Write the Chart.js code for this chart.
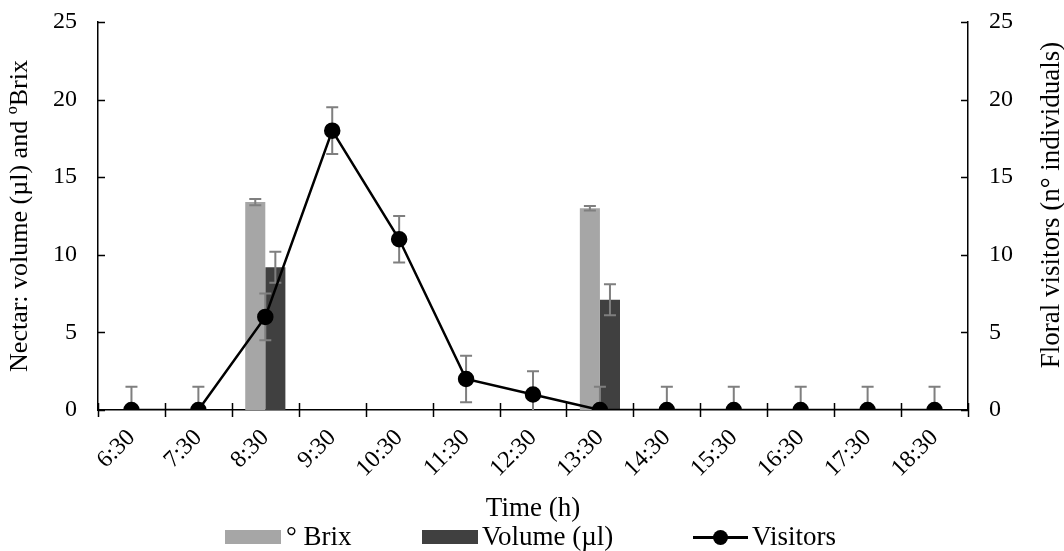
<!DOCTYPE html>
<html>
<head>
<meta charset="utf-8">
<script src="https://cdn.jsdelivr.net/npm/chart.js@4"></script>
<style>
  html, body { margin: 0; padding: 0; background: #fff; }
  #wrap { position: relative; width: 1064px; height: 551px; }
  #legend { position: absolute; left: 0; top: 0; width: 1064px; height: 551px; pointer-events: none;
            font-family: "Liberation Serif", "Times New Roman", serif; font-size: 27px; color: #000; }
  .sw { position: absolute; top: 530px; height: 14px; width: 56px; }
  .txt { position: absolute; top: 520px; line-height: 32px; white-space: nowrap; }
  .ln { position: absolute; top: 536px; height: 3px; width: 55px; background: #000; left: 693px; }
  .dot { position: absolute; top: 530px; left: 713px; width: 15px; height: 15px; border-radius: 50%; background: #000; }
  #ytitle2 { position: absolute; left: 1050px; top: 205px; white-space: nowrap;
             transform: translate(-50%, -50%) rotate(-90deg); line-height: 32px; }
</style>
</head>
<body>
<div id="wrap">
  <canvas id="chart" width="1064" height="551"></canvas>
  <div id="legend">
    <div class="sw" style="left:225px;background:#a6a6a6"></div>
    <div class="txt" style="left:286px">° Brix</div>
    <div class="sw" style="left:422px;background:#404040"></div>
    <div class="txt" style="left:482px">Volume (µl)</div>
    <div class="ln"></div>
    <div class="dot"></div>
    <div class="txt" style="left:752px">Visitors</div>
    <div id="ytitle2">Floral visitors (n° individuals)</div>
  </div>
</div>
<script>
// 数据
const hours = ['6:30', '7:30', '8:30', '9:30', '10:30', '11:30', '12:30', '13:30', '14:30', '15:30', '16:30', '17:30', '18:30'];
const brix = [null, null, 13.4, null, null, null, null, 13.0, null, null, null, null, null];
const brixErr = [null, null, 0.2, null, null, null, null, 0.15, null, null, null, null, null];
const volume = [null, null, 9.2, null, null, null, null, 7.1, null, null, null, null, null];
const volumeErr = [null, null, 1.0, null, null, null, null, 1.0, null, null, null, null, null];
const visitors = [0, 0, 6, 18, 11, 2, 1, 0, 0, 0, 0, 0, 0];
const visitorsErr = [1.5, 1.5, 1.5, 1.5, 1.5, 1.5, 1.5, 1.5, 1.5, 1.5, 1.5, 1.5, 1.5];
const yTicks = [0, 5, 10, 15, 20, 25];

const serif = '"Liberation Serif", "Times New Roman", serif';

// 误差线
function drawErrors(chart, index, meta) {
    const ds = chart.data.datasets[index];
    if (!ds.errors) return;
    const ctx = chart.ctx;
    const yScale = chart.scales[meta.yAxisID];
    const area = chart.chartArea;
    ctx.save();
    ctx.beginPath();
    ctx.rect(area.left, area.top - 5, area.right - area.left, area.bottom - area.top + 5);
    ctx.clip();
    ctx.strokeStyle = '#7f7f7f';
    ctx.lineWidth = 2;
    meta.data.forEach((el, i) => {
        const v = ds.data[i];
        const e = ds.errors[i];
        if (v == null || e == null) return;
        const x = el.x;
        const top = yScale.getPixelForValue(v + e);
        const bot = yScale.getPixelForValue(v - e);
        const cap = 6;
        ctx.beginPath();
        ctx.moveTo(x, top); ctx.lineTo(x, bot);
        ctx.moveTo(x - cap, top); ctx.lineTo(x + cap, top);
        ctx.moveTo(x - cap, bot); ctx.lineTo(x + cap, bot);
        ctx.stroke();
    });
    ctx.restore();
}

const errorBars = {
    id: 'errorBars',
    beforeDatasetDraw(chart, args) {
        if (chart.data.datasets[args.index].type === 'line') drawErrors(chart, args.index, args.meta);
    },
    afterDatasetDraw(chart, args) {
        if (chart.data.datasets[args.index].type !== 'line') drawErrors(chart, args.index, args.meta);
    }
};

// 刻度线（向内）
const tickMarks = {
    id: 'tickMarks',
    afterDraw(chart) {
        const ctx = chart.ctx;
        const { y, y1 } = chart.scales;
        const area = chart.chartArea;
        ctx.save();
        ctx.strokeStyle = '#000';
        ctx.lineWidth = 1.5;
        ctx.beginPath();
        yTicks.forEach(t => {
            const py = Math.round(y.getPixelForValue(t)) + 0.5;
            ctx.moveTo(area.left, py); ctx.lineTo(area.left + 7, py);
            const py1 = Math.round(y1.getPixelForValue(t)) + 0.5;
            ctx.moveTo(area.right - 7, py1); ctx.lineTo(area.right, py1);
        });
        const w = (area.right - area.left) / hours.length;
        for (let k = 0; k <= hours.length; k++) {
            const px = Math.round(area.left + k * w) + 0.5;
            ctx.moveTo(px, area.bottom - 7); ctx.lineTo(px, area.bottom + 7);
        }
        ctx.stroke();
        ctx.restore();
    }
};

const ctx = document.getElementById('chart').getContext('2d');
new Chart(ctx, {
    type: 'bar',
    data: {
        labels: hours,
        datasets: [
            {
                type: 'line',
                label: 'Visitors',
                data: visitors,
                errors: visitorsErr,
                yAxisID: 'y1',
                borderColor: '#000',
                backgroundColor: '#000',
                borderWidth: 2.5,
                pointRadius: 7,
                pointHoverRadius: 7,
                tension: 0,
                order: 0
            },
            {
                label: '° Brix',
                data: brix,
                errors: brixErr,
                yAxisID: 'y',
                backgroundColor: '#a6a6a6',
                categoryPercentage: 0.6,
                barPercentage: 1,
                order: 1
            },
            {
                label: 'Volume (µl)',
                data: volume,
                errors: volumeErr,
                yAxisID: 'y',
                backgroundColor: '#404040',
                categoryPercentage: 0.6,
                barPercentage: 1,
                order: 1
            }
        ]
    },
    options: {
        responsive: false,
        animation: false,
        layout: { padding: { top: 22, left: 0, right: 0, bottom: 0 } },
        scales: {
            x: {
                grid: { display: false, drawTicks: false },
                border: { display: true, color: '#000', width: 1.5 },
                ticks: {
                    autoSkip: false,
                    minRotation: 45,
                    maxRotation: 45,
                    padding: 14,
                    color: '#000',
                    font: { family: serif, size: 24 }
                },
                title: {
                    display: true,
                    text: 'Time (h)',
                    color: '#000',
                    font: { family: serif, size: 27 },
                    padding: { top: 0, bottom: 26 }
                },
                afterFit: s => { s.height = 141; s.paddingLeft = 0; s.paddingRight = 0; }
            },
            y: {
                position: 'left',
                min: 0,
                max: 25,
                grid: { display: false, drawTicks: false },
                border: { display: true, color: '#000', width: 1.5 },
                ticks: {
                    stepSize: 5,
                    padding: 21,
                    color: '#000',
                    font: { family: serif, size: 24 }
                },
                title: {
                    display: true,
                    text: 'Nectar: volume (µl) and ºBrix',
                    color: '#000',
                    font: { family: serif, size: 26 },
                    padding: { top: 5, bottom: 0 }
                },
                afterFit: s => { s.width = 98; s.paddingTop = 0; s.paddingBottom = 0; }
            },
            y1: {
                position: 'right',
                min: 0,
                max: 25,
                grid: { display: false, drawTicks: false },
                border: { display: true, color: '#000', width: 1.5 },
                ticks: {
                    stepSize: 5,
                    padding: 21,
                    color: '#000',
                    font: { family: serif, size: 24 }
                },
                afterFit: s => { s.width = 96; s.paddingTop = 0; s.paddingBottom = 0; }
            }
        },
        plugins: {
            legend: { display: false },
            tooltip: { enabled: false }
        }
    },
    plugins: [errorBars, tickMarks]
});
</script>
</body>
</html>
